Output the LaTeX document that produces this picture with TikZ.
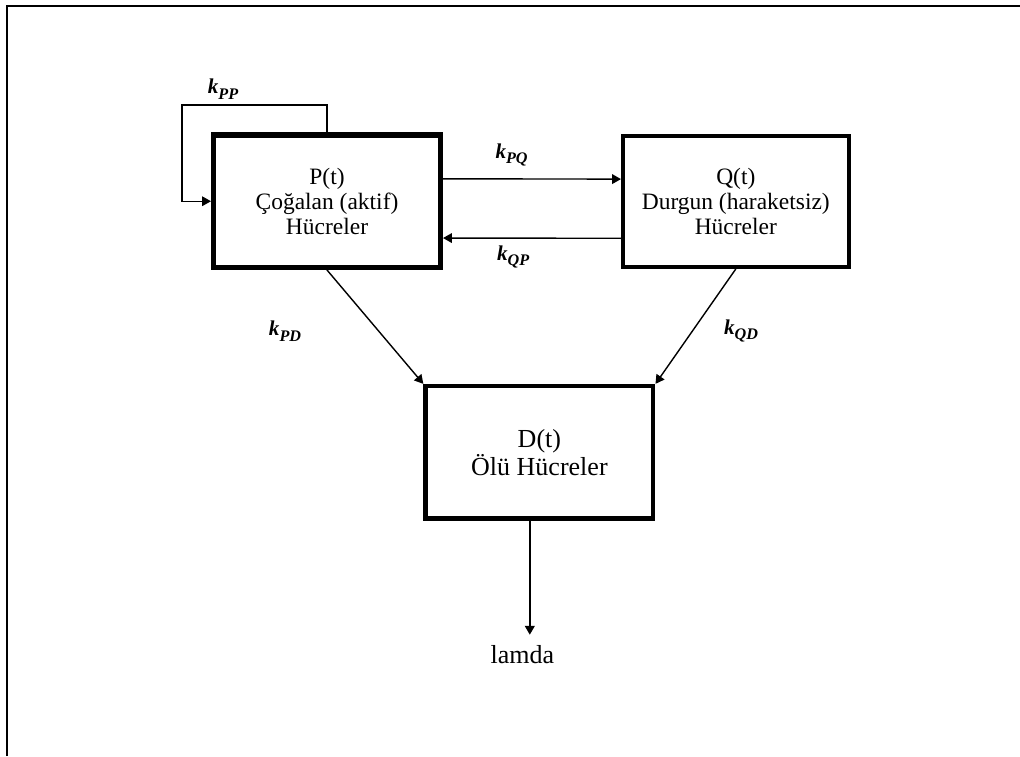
\documentclass[tikz,border=0pt]{standalone}
\usepackage{fontspec}
\setmainfont{Liberation Serif}
\usetikzlibrary{arrows.meta}

\tikzset{
  cellbox/.style={shape=rectangle,draw=black,align=center,font=\fontsize{16.7}{17.6}\selectfont},
  flow/.style={-{Triangle[length=0.22cm,width=0.24cm]},draw=black,line width=1pt},
  rate/.style={font=\fontsize{15}{16}\selectfont\bfseries\itshape},
}
\newcommand{\krate}[1]{k\raisebox{-0.28em}{\fontsize{11.5}{11.5}\selectfont #1}}

\begin{document}
\begin{tikzpicture}
\useasboundingbox (0,0) rectangle (25.5,18.9);
\draw[line width=1.1pt] (0.175,0) -- (0.175,18.75) -- (25.5,18.75);

\node[cellbox,line width=3.6pt,minimum width=5.675cm,minimum height=3.3125cm] (P) at (8.175,13.869) {P(t)\\Çoğalan (aktif)\\Hücreler};
\node[cellbox,line width=2.8pt,minimum width=5.643cm,minimum height=3.275cm] (Q) at (18.395,13.8625) {Q(t)\\Durgun (haraketsiz)\\Hücreler};
\node[cellbox,line width=3.1pt,minimum width=5.695cm,minimum height=3.3075cm,font=\fontsize{18.5}{17.3}\selectfont] (D) at (13.485,7.595) {D(t)\\Ölü Hücreler};
\node[font=\fontsize{18.5}{20}\selectfont,inner sep=0.27cm] (lamda) at (13.06,2.525) {lamda};

\node[rate] (kpp) at (5.575,16.66) {\krate{PP}};
\node[rate] (kpq) at (12.79,15.025) {\krate{PQ}};
\node[rate] (kqp) at (12.83,12.475) {\krate{QP}};
\node[rate] (kpd) at (7.125,10.625) {\krate{PD}};
\node[rate] (kqd) at (18.525,10.625) {\krate{QD}};

\coordinate (loop) at (4.55,16.275);
\draw[flow,line width=0.75pt] (P.north) |- (loop) |- (P.west);
\draw[flow] ([yshift=0.56cm]P.east) -- ([yshift=0.56cm]Q.west);
\draw[flow] ([yshift=-0.92cm]Q.west) -- ([yshift=-0.92cm]P.east);
\draw[flow] (P.south) -- (D.north west);
\draw[flow] (Q.south) -- (D.north east);
\coordinate (Dout) at ([xshift=-0.24cm]D.south);
\draw[flow,line width=1.3pt] (Dout) -- (Dout |- lamda.north);
\end{tikzpicture}
\end{document}
